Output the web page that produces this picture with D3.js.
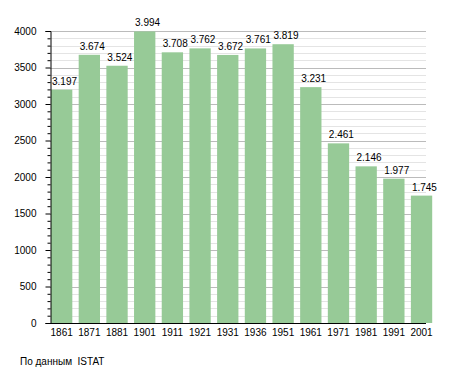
<!DOCTYPE html>
<html><head><meta charset="utf-8">
<script src="https://cdn.jsdelivr.net/npm/d3@7"></script>
<style>body{margin:0;background:#fff}svg{display:block}text{font-family:"Liberation Sans",Arial,sans-serif}</style>
</head><body>
<script>
const years = ["1861","1871","1881","1901","1911","1921","1931","1936","1951","1961","1971","1981","1991","2001"];
const population = [3197,3674,3524,3994,3708,3762,3672,3761,3819,3231,2461,2146,1977,1745];
const majorTicks = [0,500,1000,1500,2000,2500,3000,3500,4000];
const sourceText = "По данным  ISTAT";

(function(){
const W = 455, H = 373;
const mLeft = 50, mRight = 426, mTop = 31, mBottom = 323;
const svg = d3.select("body").append("svg").attr("width", W).attr("height", H);

const y = d3.scaleLinear().domain([0, 4000]).range([mBottom, mTop]);
const x = d3.scaleBand().domain(years).range([51, 432.2]).paddingInner(0.23).paddingOuter(0).align(0);

const minor = d3.range(0, 4001, 100).filter(v => v % 500 !== 0);
svg.append("g").selectAll("line").data(minor).join("line")
  .attr("x1", mLeft).attr("x2", mRight)
  .attr("y1", d => Math.round(y(d)) + 0.5).attr("y2", d => Math.round(y(d)) + 0.5)
  .attr("stroke", "#e4e4e4").attr("stroke-width", 1);
svg.append("g").selectAll("line").data(majorTicks.filter(v => v > 0)).join("line")
  .attr("x1", mLeft).attr("x2", mRight)
  .attr("y1", d => Math.round(y(d)) + 0.5).attr("y2", d => Math.round(y(d)) + 0.5)
  .attr("stroke", "#bbbbbb").attr("stroke-width", 1);

svg.append("g").selectAll("rect").data(years).join("rect")
  .attr("x", d => x(d)).attr("width", x.bandwidth())
  .attr("y", (d, i) => y(population[i])).attr("height", (d, i) => mBottom - y(population[i]))
  .attr("fill", "#97ca97");

svg.append("g").selectAll("text").data(years).join("text")
  .attr("x", d => x(d) + 1).attr("y", (d, i) => y(population[i]) - 5)
  .attr("font-size", 10).attr("fill", "#000")
  .text((d, i) => d3.format(",")(population[i]).replace(",", "."));

const yAxis = d3.axisLeft(y).tickValues(majorTicks).tickSize(5).tickPadding(9).tickFormat(d3.format("d"));
const gy = svg.append("g").attr("transform", `translate(${mLeft + 0.5},0)`).call(yAxis);
gy.select(".domain").attr("stroke", "#000");
gy.selectAll("text").attr("font-size", 10).attr("font-family", "Liberation Sans, Arial, sans-serif");
const yMinor = d3.axisLeft(y).tickValues(minor).tickSize(3).tickFormat("");
const gym = svg.append("g").attr("transform", `translate(${mLeft + 0.5},0)`).call(yMinor);
gym.select(".domain").remove();

svg.append("line").attr("x1", mLeft).attr("x2", mRight).attr("y1", mBottom + 0.5).attr("y2", mBottom + 0.5).attr("stroke", "#000");
svg.append("g").selectAll("text").data(years).join("text")
  .attr("x", d => x(d) + x.bandwidth() / 2).attr("y", mBottom + 13)
  .attr("text-anchor", "middle").attr("font-size", 10).text(d => d);

svg.append("text").attr("x", 20).attr("y", 365).attr("font-size", 10)
  .style("white-space", "pre").text(sourceText);
})();
</script>
</body></html>
